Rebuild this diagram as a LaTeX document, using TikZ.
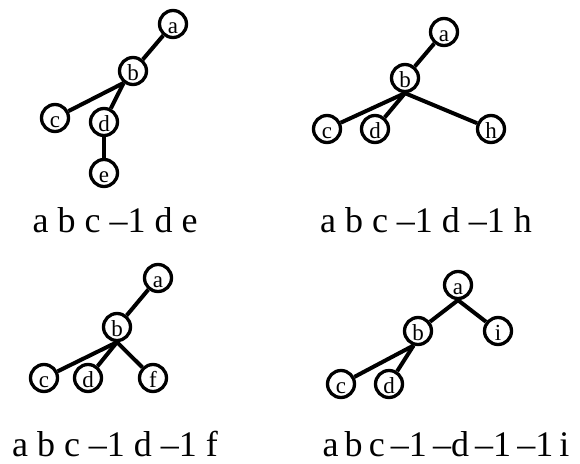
\documentclass[tikz,border=0pt]{standalone}
\usepackage{fontspec}
\setmainfont{Liberation Serif}
\begin{document}
\begin{tikzpicture}[x=1pt, y=-1pt, every node/.style={font=\fontsize{23}{23}\selectfont},
  vtx/.style={draw, circle, line width=3.3pt, minimum size=27pt, inner sep=0pt, text height=19pt, text depth=0pt},
  link/.style={line width=4pt},
  seq/.style={anchor=base, inner sep=0pt, font=\fontsize{36}{40}\selectfont}]
  \useasboundingbox (0,0) rectangle (580,463);

  \node[vtx] (a1) at (173, 24) {a};
  \node[vtx] (b1) at (133, 71) {b};
  \node[vtx] (c1) at (55, 118) {c};
  \node[vtx] (d1) at (104, 122) {d};
  \node[vtx] (e1) at (104, 173) {e};
  \draw[link] (a1) -- (b1);
  \draw[link] (b1.232) -- (c1);
  \draw[link] (b1.232) -- (d1);
  \draw[link] (d1) -- (e1);
  \node[seq] (s1) at (115, 232) {a b c –1 d e};

  \node[vtx] (a2) at (444, 32) {a};
  \node[vtx] (b2) at (405, 78) {b};
  \node[vtx] (c2) at (327, 129) {c};
  \node[vtx] (d2) at (375, 129) {d};
  \node[vtx] (h2) at (491, 129) {h};
  \draw[link] (a2) -- (b2);
  \draw[link] (b2.south) -- (c2);
  \draw[link] (b2.south) -- (d2);
  \draw[link] (b2.south) -- (h2);
  \node[seq] (s2) at (426, 232) {a b c –1 d –1 h};

  \node[vtx] (a3) at (158, 278) {a};
  \node[vtx] (b3) at (117, 327) {b};
  \node[vtx] (c3) at (44, 378) {c};
  \node[vtx] (d3) at (88, 378) {d};
  \node[vtx] (f3) at (153, 378) {f};
  \draw[link] (a3) -- (b3);
  \draw[link] (b3.south) -- (c3);
  \draw[link] (b3.south) -- (d3);
  \draw[link] (b3.south) -- (f3);
  \node[seq] (s3) at (115, 456) {a b c –1 d –1 f};

  \node[vtx] (a4) at (458, 285) {a};
  \node[vtx] (b4) at (418, 331) {b};
  \node[vtx] (i4) at (498, 331) {i};
  \node[vtx] (c4) at (341, 384) {c};
  \node[vtx] (d4) at (389, 384) {d};
  \draw[link] (a4.south) -- (b4);
  \draw[link] (a4.south) -- (i4);
  \draw[link] (b4.253) -- (c4);
  \draw[link] (b4.253) -- (d4);
  \node[seq] (s4) at (446, 456) {\spaceskip=0.17em a b c –1 –d –1 –1 i};
\end{tikzpicture}
\end{document}
